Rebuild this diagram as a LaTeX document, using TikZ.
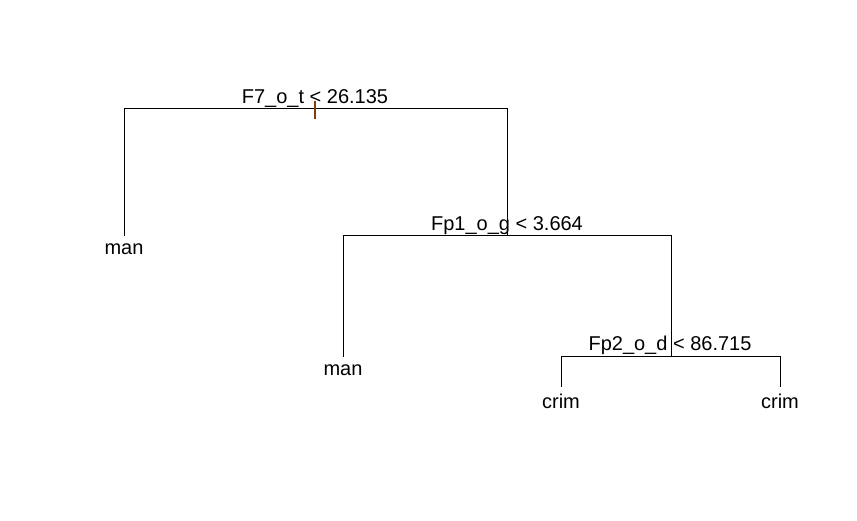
\documentclass[tikz,border=0pt]{standalone}
\usepackage{fontspec}
\setmainfont{Liberation Sans}
\begin{document}
\begin{tikzpicture}[x=1pt,y=-1pt,
  edge/.style={draw=black,line width=1pt},
  lab/.style={font=\fontsize{20}{23}\selectfont,anchor=base,inner sep=0pt,text=black},
  tickmark/.style={draw={rgb,255:red,130;green,60;blue,20},line width=1.5pt}]
\useasboundingbox (0,0) rectangle (857,521);
% tree points
\coordinate (n1L) at (124,109);
\coordinate (n1R) at (507,109);
\coordinate (n1c) at (315,109);
\coordinate (l1) at (124,236);
\coordinate (n2L) at (343,236);
\coordinate (n2R) at (671,236);
\coordinate (n2c) at (507,236);
\coordinate (l2) at (343,357);
\coordinate (n3L) at (561,357);
\coordinate (n3R) at (780,357);
\coordinate (n3c) at (671,357);
\coordinate (l3) at (561,387);
\coordinate (l4) at (780,387);
\coordinate (t1) at (315,101);
\coordinate (t2) at (315,119);
% edges
\draw[edge] (l1) -- (n1L) -- (n1R) -- (n2c);
\draw[edge] (l2) -- (n2L) -- (n2R) -- (n3c);
\draw[edge] (l3) -- (n3L) -- (n3R) -- (l4);
\draw[tickmark] (t1) -- (t2);
% labels
\node[lab] (s1) at (315,104) {F7\_o\_t < 26.135};
\node[lab] (s2) at (507,231) {Fp1\_o\_g < 3.664};
\node[lab] (s3) at (670,351) {Fp2\_o\_d < 86.715};
\node[lab] (m1) at (124,255) {man};
\node[lab] (m2) at (343,376) {man};
\node[lab] (c1) at (561,408) {crim};
\node[lab] (c2) at (780,408) {crim};
\end{tikzpicture}
\end{document}
